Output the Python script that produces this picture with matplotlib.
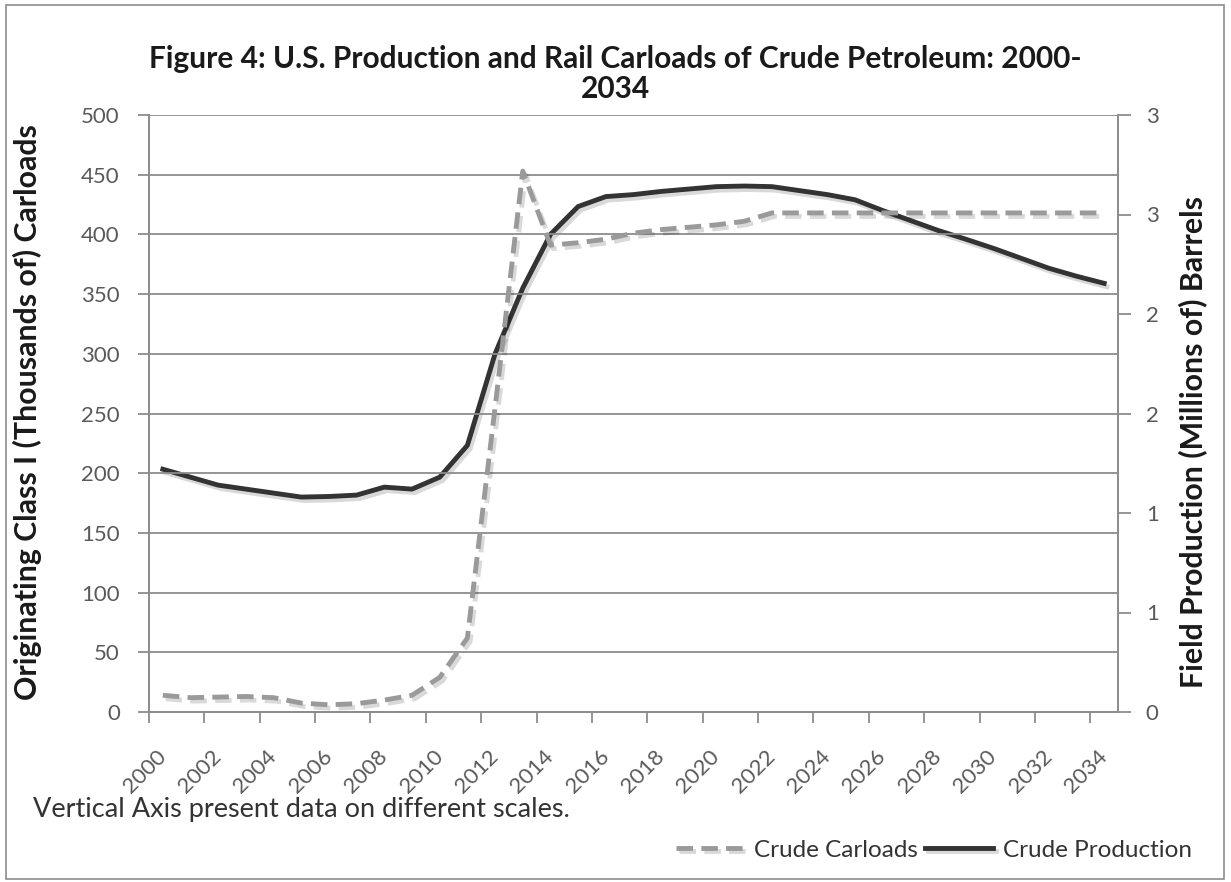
import numpy as np
import matplotlib
matplotlib.use("Agg")
import matplotlib.pyplot as plt
import matplotlib.patheffects as pe
from matplotlib.ticker import FixedLocator, FuncFormatter
from matplotlib.patches import Rectangle

plt.rcParams["font.family"] = ["Lato", "DejaVu Sans"]

years = list(range(2000, 2035))

# rail carloads, thousands (left axis)
carloads = [14, 12, 12.5, 13, 12, 7.5, 6, 7, 10, 14, 29, 62, 255, 453, 391,
            393, 396, 401, 404, 406, 408, 411, 418, 418, 418, 418, 418, 418,
            418, 418, 418, 418, 418, 418, 418]

# field production, millions of barrels (right axis)
production = [1.22, 1.18, 1.14, 1.12, 1.10, 1.08, 1.083, 1.09, 1.13, 1.12,
              1.18, 1.34, 1.80, 2.13, 2.40, 2.54, 2.59, 2.60, 2.616, 2.628,
              2.64, 2.643, 2.64, 2.62, 2.60, 2.574, 2.52, 2.47, 2.42, 2.376,
              2.33, 2.28, 2.23, 2.19, 2.154]

grid_col = "#8c8c8c"
tick_col = "#5a5a5a"
tick_size = 16

fig = plt.figure(figsize=(12.31, 8.82), dpi=100)
ax = fig.add_axes([149 / 1231, 1 - 712 / 882, (1118 - 149) / 1231, (712 - 115) / 882])
ax2 = ax.twinx()

shadow = [pe.SimpleLineShadow(offset=(2, -2.5), alpha=0.15, shadow_color="#000000"), pe.Normal()]

l1, = ax.plot(years, carloads, color="#9a9a9a", lw=3.5, ls=(0, (3.4, 1.7)),
              label="Crude Carloads", zorder=3, path_effects=shadow)
l2, = ax2.plot(years, production, color="#333333", lw=3.5,
               label="Crude Production", zorder=3, path_effects=shadow)

ax.set_xlim(1999.5, 2034.5)
ax.set_ylim(0, 500)
ax2.set_ylim(0, 3)

ax.yaxis.set_major_locator(FixedLocator(np.arange(0, 501, 50)))
ax2.yaxis.set_major_locator(FixedLocator(np.arange(0, 3.01, 0.5)))
# excel rounds the right axis to whole numbers, half up
ax2.yaxis.set_major_formatter(FuncFormatter(lambda v, p: str(int(np.floor(v + 0.5)))))

# x labels sit at category centres, ticks at boundaries
ax.set_xticks(years[::2], labels=[str(y) for y in years[::2]], rotation=45,
              ha="right", va="center", rotation_mode="anchor")
ax.xaxis.set_minor_locator(FixedLocator(np.arange(1999.5, 2035, 2)))
ax.tick_params(axis="x", which="major", length=0, pad=30, labelsize=tick_size, labelcolor=tick_col)
ax.tick_params(axis="x", which="minor", length=8, width=1.3, color=grid_col)

ax.tick_params(axis="y", length=8, width=1.3, color=grid_col, labelsize=tick_size,
               labelcolor=tick_col, pad=13)
ax2.tick_params(axis="y", length=9, width=1.3, color=grid_col, labelsize=tick_size,
                labelcolor=tick_col, pad=11)

ax.grid(axis="y", color=grid_col, lw=1.3)
ax.set_axisbelow(True)
for a in (ax, ax2):
    a.spines["top"].set_visible(False)
    for s in ("left", "right", "bottom"):
        a.spines[s].set_color(grid_col)
        a.spines[s].set_linewidth(1.3)
ax.set_zorder(ax2.get_zorder() + 1)
ax.patch.set_visible(False)

fig.text(0.5, 1 - 74 / 882, "Figure 4: U.S. Production and Rail Carloads of Crude Petroleum: 2000-\n2034",
         ha="center", va="center", fontsize=21.5, fontweight="bold", color="#1a1a1a", linespacing=1.05)
fig.text(27 / 1231, 1 - 412 / 882, "Originating Class I (Thousands of) Carloads",
         rotation=90, ha="center", va="center", fontsize=21.8, fontweight="bold", color="#1a1a1a")
fig.text(1193 / 1231, 1 - 442 / 882, "Field Production (Millions of) Barrels",
         rotation=90, ha="center", va="center", fontsize=21.8, fontweight="bold", color="#1a1a1a")
fig.text(33 / 1231, 1 - 817 / 882, "Vertical Axis present data on different scales.",
         ha="left", va="baseline", fontsize=19.5, color="#333333")

fig.legend(handles=[l1, l2], loc="center right", bbox_to_anchor=(1192 / 1231, 1 - 850 / 882),
           ncol=2, frameon=False, fontsize=17.5, handlelength=2.8, handletextpad=0.4,
           columnspacing=0.3, labelcolor="#333333", borderaxespad=0, borderpad=0)

fig.patches.append(Rectangle((6 / 1231, 3 / 882), 1218 / 1231, 874 / 882, transform=fig.transFigure,
                             fill=False, edgecolor="#8c8c8c", lw=1.2))

fig.savefig("out.png", dpi=100)
